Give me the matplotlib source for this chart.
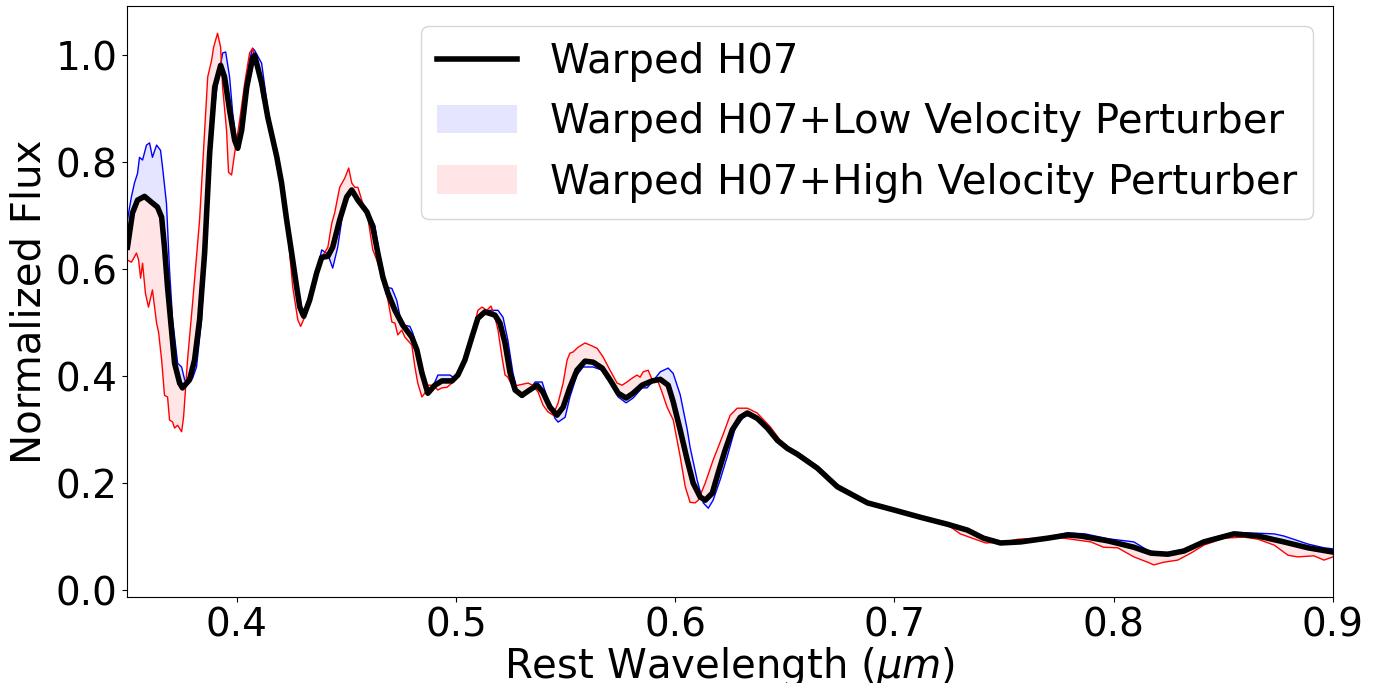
import matplotlib
matplotlib.use("Agg")
import matplotlib.pyplot as plt
import numpy as np

# Warped H07 (black)
wave_h07 = [0.3502, 0.3525, 0.3548, 0.3580, 0.3612, 0.3639, 0.3658, 0.3671, 0.3685, 0.3703,
            0.3717, 0.3740, 0.3753, 0.3785, 0.3808, 0.3831, 0.3854, 0.3877, 0.3900, 0.3927,
            0.3945, 0.3968, 0.3991, 0.4005, 0.4023, 0.4046, 0.4073, 0.4082, 0.4114, 0.4142,
            0.4183, 0.4205, 0.4228, 0.4251, 0.4274, 0.4288, 0.4306, 0.4333, 0.4365, 0.4388,
            0.4416, 0.4438, 0.4470, 0.4502, 0.4525, 0.4553, 0.4594, 0.4621, 0.4644, 0.4667,
            0.4690, 0.4722, 0.4758, 0.4799, 0.4822, 0.4845, 0.4872, 0.4904, 0.4936, 0.4982,
            0.5009, 0.5041, 0.5073, 0.5100, 0.5132, 0.5178, 0.5201, 0.5224, 0.5247, 0.5270,
            0.5301, 0.5329, 0.5370, 0.5397, 0.5429, 0.5461, 0.5489, 0.5520, 0.5552, 0.5589,
            0.5626, 0.5667, 0.5703, 0.5740, 0.5776, 0.5808, 0.5849, 0.5895, 0.5932, 0.5968,
            0.5991, 0.6023, 0.6055, 0.6082, 0.6114, 0.6137, 0.6169, 0.6196, 0.6228, 0.6260,
            0.6297, 0.6329, 0.6374, 0.6420, 0.6466, 0.6511, 0.6557, 0.6648, 0.6740, 0.6877,
            0.6995, 0.7119, 0.7242, 0.7333, 0.7406, 0.7484, 0.7575, 0.7699, 0.7790, 0.7849,
            0.7973, 0.8092, 0.8170, 0.8247, 0.8320, 0.8411, 0.8548, 0.8658, 0.8776, 0.8886,
            0.9000]
flux_h07 = [0.641, 0.705, 0.729, 0.736, 0.725, 0.716, 0.697, 0.641, 0.566, 0.486,
            0.424, 0.387, 0.378, 0.393, 0.430, 0.505, 0.630, 0.817, 0.940, 0.981,
            0.959, 0.897, 0.841, 0.826, 0.860, 0.940, 0.995, 1.000, 0.948, 0.884,
            0.810, 0.761, 0.692, 0.630, 0.566, 0.529, 0.512, 0.542, 0.593, 0.622,
            0.624, 0.641, 0.692, 0.735, 0.748, 0.729, 0.707, 0.679, 0.630, 0.585,
            0.555, 0.523, 0.495, 0.473, 0.449, 0.406, 0.368, 0.383, 0.391, 0.391,
            0.402, 0.430, 0.473, 0.508, 0.520, 0.514, 0.499, 0.462, 0.406, 0.374,
            0.364, 0.372, 0.383, 0.370, 0.342, 0.327, 0.342, 0.379, 0.411, 0.428,
            0.426, 0.415, 0.393, 0.368, 0.359, 0.368, 0.383, 0.391, 0.394, 0.383,
            0.352, 0.299, 0.243, 0.200, 0.174, 0.168, 0.181, 0.219, 0.262, 0.299,
            0.323, 0.331, 0.321, 0.303, 0.280, 0.265, 0.254, 0.228, 0.193, 0.163,
            0.150, 0.136, 0.123, 0.112, 0.097, 0.088, 0.090, 0.097, 0.103, 0.101,
            0.092, 0.080, 0.069, 0.067, 0.073, 0.090, 0.105, 0.101, 0.090, 0.079,
            0.071]

# Warped H07 + low velocity perturber (blue)
wave_low = [0.3502, 0.3520, 0.3534, 0.3548, 0.3557, 0.3571, 0.3589, 0.3603, 0.3616, 0.3635,
            0.3653, 0.3662, 0.3680, 0.3694, 0.3708, 0.3731, 0.3749, 0.3763, 0.3776, 0.3799,
            0.3817, 0.3840, 0.3863, 0.3886, 0.3913, 0.3936, 0.3950, 0.3968, 0.3982, 0.4000,
            0.4014, 0.4037, 0.4059, 0.4073, 0.4082, 0.4114, 0.4142, 0.4183, 0.4205, 0.4228,
            0.4251, 0.4274, 0.4288, 0.4306, 0.4333, 0.4365, 0.4388, 0.4416, 0.4438, 0.4461,
            0.4484, 0.4516, 0.4562, 0.4607, 0.4630, 0.4653, 0.4685, 0.4708, 0.4730, 0.4744,
            0.4767, 0.4790, 0.4804, 0.4826, 0.4849, 0.4872, 0.4900, 0.4918, 0.4973, 0.4995,
            0.5041, 0.5073, 0.5100, 0.5132, 0.5155, 0.5192, 0.5215, 0.5237, 0.5260, 0.5283,
            0.5306, 0.5329, 0.5361, 0.5393, 0.5420, 0.5452, 0.5466, 0.5498, 0.5520, 0.5552,
            0.5580, 0.5626, 0.5667, 0.5703, 0.5740, 0.5776, 0.5808, 0.5849, 0.5872, 0.5895,
            0.5932, 0.5968, 0.5991, 0.6023, 0.6055, 0.6068, 0.6100, 0.6128, 0.6151, 0.6173,
            0.6205, 0.6237, 0.6274, 0.6319, 0.6374, 0.6420, 0.6466, 0.6511, 0.6557, 0.6648,
            0.6740, 0.6877, 0.6995, 0.7119, 0.7242, 0.7333, 0.7406, 0.7484, 0.7575, 0.7699,
            0.7790, 0.7870, 0.7973, 0.8092, 0.8160, 0.8230, 0.8320, 0.8411, 0.8548, 0.8732,
            0.8776, 0.8886, 0.8959, 0.9000]
flux_low = [0.692, 0.735, 0.761, 0.779, 0.809, 0.804, 0.832, 0.836, 0.809, 0.832,
            0.822, 0.791, 0.723, 0.598, 0.505, 0.424, 0.417, 0.393, 0.387, 0.396,
            0.417, 0.505, 0.692, 0.860, 0.948, 1.004, 1.006, 0.959, 0.892, 0.836,
            0.854, 0.929, 0.991, 1.013, 1.009, 0.985, 0.900, 0.810, 0.761, 0.692,
            0.630, 0.566, 0.529, 0.512, 0.542, 0.593, 0.636, 0.628, 0.602, 0.641,
            0.705, 0.748, 0.723, 0.701, 0.682, 0.622, 0.566, 0.564, 0.542, 0.514,
            0.495, 0.493, 0.480, 0.439, 0.393, 0.368, 0.385, 0.402, 0.402, 0.396,
            0.430, 0.473, 0.508, 0.520, 0.523, 0.523, 0.510, 0.467, 0.406, 0.368,
            0.361, 0.370, 0.389, 0.389, 0.355, 0.321, 0.314, 0.323, 0.361, 0.402,
            0.417, 0.417, 0.411, 0.389, 0.361, 0.350, 0.359, 0.378, 0.378, 0.389,
            0.408, 0.415, 0.405, 0.365, 0.300, 0.267, 0.206, 0.163, 0.153, 0.168,
            0.206, 0.249, 0.303, 0.327, 0.321, 0.303, 0.280, 0.265, 0.256, 0.228,
            0.193, 0.163, 0.150, 0.136, 0.125, 0.115, 0.100, 0.089, 0.090, 0.099,
            0.107, 0.105, 0.096, 0.090, 0.073, 0.069, 0.076, 0.093, 0.108, 0.105,
            0.101, 0.086, 0.079, 0.077]

# Warped H07 + high velocity perturber (red)
wave_high = [0.3502, 0.3520, 0.3530, 0.3543, 0.3553, 0.3562, 0.3571, 0.3584, 0.3598, 0.3616,
             0.3635, 0.3644, 0.3658, 0.3671, 0.3685, 0.3694, 0.3708, 0.3717, 0.3731, 0.3749,
             0.3758, 0.3776, 0.3799, 0.3831, 0.3854, 0.3868, 0.3886, 0.3895, 0.3913, 0.3927,
             0.3936, 0.3954, 0.3963, 0.3977, 0.3991, 0.4014, 0.4037, 0.4059, 0.4073, 0.4105,
             0.4119, 0.4128, 0.4142, 0.4183, 0.4205, 0.4228, 0.4256, 0.4279, 0.4292, 0.4310,
             0.4333, 0.4365, 0.4388, 0.4416, 0.4434, 0.4447, 0.4470, 0.4493, 0.4511, 0.4525,
             0.4539, 0.4553, 0.4575, 0.4598, 0.4621, 0.4639, 0.4667, 0.4690, 0.4708, 0.4722,
             0.4735, 0.4753, 0.4767, 0.4799, 0.4813, 0.4826, 0.4845, 0.4858, 0.4872, 0.4895,
             0.4918, 0.4936, 0.4959, 0.4982, 0.5009, 0.5041, 0.5073, 0.5100, 0.5119, 0.5141,
             0.5160, 0.5178, 0.5192, 0.5210, 0.5224, 0.5237, 0.5260, 0.5283, 0.5329, 0.5350,
             0.5375, 0.5397, 0.5420, 0.5443, 0.5466, 0.5489, 0.5507, 0.5520, 0.5534, 0.5557,
             0.5589, 0.5612, 0.5644, 0.5671, 0.5703, 0.5735, 0.5758, 0.5780, 0.5803, 0.5826,
             0.5840, 0.5854, 0.5877, 0.5895, 0.5918, 0.5940, 0.5963, 0.5991, 0.6023, 0.6046,
             0.6068, 0.6091, 0.6105, 0.6137, 0.6173, 0.6214, 0.6251, 0.6283, 0.6329, 0.6374,
             0.6434, 0.6479, 0.6534, 0.6557, 0.6648, 0.6740, 0.6877, 0.6995, 0.7119, 0.7242,
             0.7300, 0.7416, 0.7507, 0.7562, 0.7744, 0.7772, 0.7895, 0.7954, 0.8018, 0.8092,
             0.8155, 0.8183, 0.8228, 0.8292, 0.8352, 0.8411, 0.8502, 0.8594, 0.8658, 0.8732,
             0.8795, 0.8840, 0.8913, 0.8959, 0.9000]
flux_high = [0.617, 0.613, 0.620, 0.630, 0.617, 0.583, 0.611, 0.555, 0.529, 0.561,
             0.499, 0.482, 0.430, 0.364, 0.361, 0.318, 0.314, 0.303, 0.308, 0.296,
             0.323, 0.430, 0.536, 0.692, 0.860, 0.959, 0.991, 1.015, 1.041, 1.015,
             0.940, 0.860, 0.781, 0.776, 0.817, 0.879, 0.948, 1.004, 1.013, 0.953,
             0.916, 0.910, 0.879, 0.810, 0.761, 0.692, 0.566, 0.505, 0.493, 0.510,
             0.542, 0.593, 0.622, 0.641, 0.686, 0.705, 0.753, 0.770, 0.789, 0.761,
             0.753, 0.753, 0.723, 0.697, 0.636, 0.617, 0.579, 0.542, 0.501, 0.499,
             0.477, 0.486, 0.473, 0.458, 0.417, 0.387, 0.361, 0.368, 0.383, 0.383,
             0.374, 0.378, 0.379, 0.387, 0.402, 0.430, 0.473, 0.523, 0.529, 0.523,
             0.531, 0.510, 0.486, 0.436, 0.402, 0.398, 0.379, 0.383, 0.387, 0.383,
             0.370, 0.346, 0.333, 0.327, 0.350, 0.387, 0.430, 0.443, 0.445, 0.454,
             0.462, 0.458, 0.452, 0.436, 0.411, 0.387, 0.383, 0.389, 0.396, 0.402,
             0.398, 0.408, 0.411, 0.393, 0.394, 0.370, 0.342, 0.318, 0.249, 0.193,
             0.164, 0.163, 0.168, 0.200, 0.243, 0.286, 0.327, 0.340, 0.340, 0.331,
             0.305, 0.280, 0.262, 0.258, 0.232, 0.197, 0.165, 0.151, 0.137, 0.122,
             0.105, 0.088, 0.090, 0.095, 0.099, 0.097, 0.090, 0.080, 0.079, 0.062,
             0.052, 0.047, 0.052, 0.056, 0.069, 0.084, 0.097, 0.099, 0.095, 0.084,
             0.065, 0.062, 0.064, 0.056, 0.062]

fig, ax = plt.subplots(figsize=(13.77, 6.83), dpi=100)
fig.subplots_adjust(left=127/1377, right=1333/1377, top=1-6/683, bottom=1-597/683)

# shaded area between the base model and each perturbed model
ax.fill(np.concatenate([wave_h07, wave_low[::-1]]), np.concatenate([flux_h07, flux_low[::-1]]),
        color="blue", alpha=0.1, lw=0, label="Warped H07+Low Velocity Perturber")
ax.fill(np.concatenate([wave_h07, wave_high[::-1]]), np.concatenate([flux_h07, flux_high[::-1]]),
        color="red", alpha=0.1, lw=0, label="Warped H07+High Velocity Perturber")
ax.plot(wave_low, flux_low, color="blue", lw=1)
ax.plot(wave_high, flux_high, color="red", lw=1)
ax.plot(wave_h07, flux_h07, color="black", lw=4, solid_joinstyle="round",
        label="Warped H07")

ax.set_xlim(0.35, 0.9)
ax.set_ylim(-0.013, 1.092)
ax.set_yticks([0.0, 0.2, 0.4, 0.6, 0.8, 1.0])
ax.tick_params(labelsize=28)
ax.set_xlabel(r"Rest Wavelength ($\mu m$)", fontsize=29, labelpad=0)
ax.set_ylabel("Normalized Flux", fontsize=29)

h, l = ax.get_legend_handles_labels()
ax.legend([h[2], h[0], h[1]], [l[2], l[0], l[1]], loc="upper right", fontsize=29)

plt.savefig("out.png")
